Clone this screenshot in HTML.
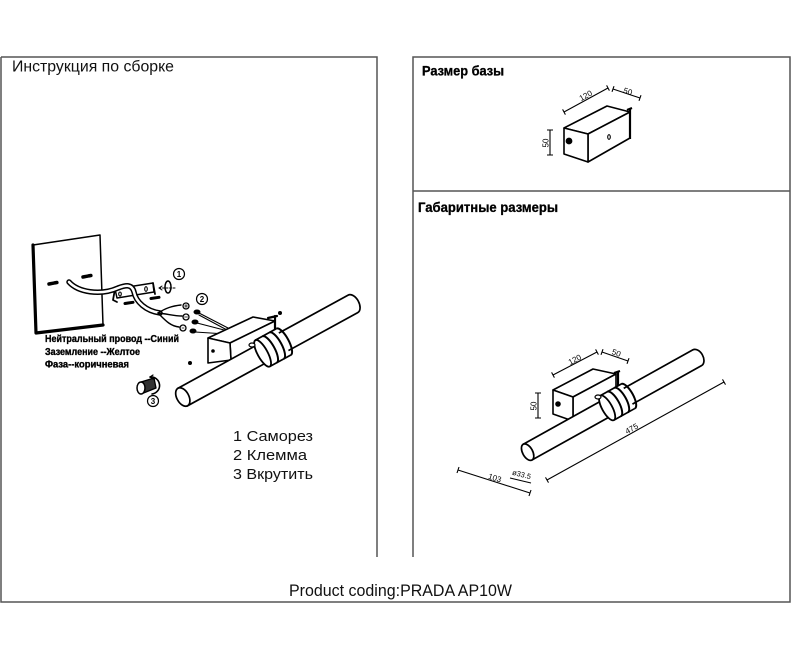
<!DOCTYPE html>
<html><head><meta charset="utf-8"><style>
html,body{margin:0;padding:0;background:#fff;}
svg{display:block;font-family:"Liberation Sans",sans-serif;}
</style></head><body>
<svg xmlns="http://www.w3.org/2000/svg" width="800" height="655" viewBox="0 0 800 655">
<rect width="800" height="655" fill="#fff"/>
<!-- frames -->
<g stroke="#555" stroke-width="1.5" fill="none">
<path d="M1,57H377V557 M1,57V602H790V57H413V557 M413,191H790"/>
</g>

<!-- headings -->
<text x="12" y="71.5" font-size="15.5" textLength="162" lengthAdjust="spacingAndGlyphs" fill="#111">Инструкция по сборке</text>
<text x="422" y="75.5" font-size="13.5" font-weight="bold" textLength="82" lengthAdjust="spacingAndGlyphs" fill="#000" stroke="#000" stroke-width="0.3">Размер базы</text>
<text x="418" y="212" font-size="14" font-weight="bold" textLength="140" lengthAdjust="spacingAndGlyphs" fill="#000" stroke="#000" stroke-width="0.3">Габаритные размеры</text>

<!-- LEFT ASSEMBLY DRAWING -->
<g stroke="#000" fill="none" stroke-linejoin="round" stroke-linecap="round">
 <!-- wall plate -->
 <polygon points="33,245 100,235 103,325 36,333" fill="#fff" stroke-width="1.5"/>
 <path d="M33,245 L36,333 L103,325" stroke-width="3.2"/>
 <path d="M49,284 l8,-1.5" stroke-width="3.5" stroke-dasharray="2 1"/>
 <path d="M83,277 l8,-1.5" stroke-width="3.5" stroke-dasharray="2 1"/>
 <!-- bracket -->
 <polygon points="115,289 153,283 154,292 117,298" fill="#fff" stroke-width="1.5"/>
 <path d="M115,289 L113,300 L117,302" stroke-width="1.8"/>
 <path d="M153,283 L155,294" stroke-width="1.8"/>
 <ellipse cx="120" cy="294" rx="1.3" ry="2" stroke-width="1.1"/>
 <ellipse cx="146" cy="289" rx="1.3" ry="2.3" stroke-width="1.1"/>
 <!-- cable -->
 <path d="M69,282 C78,292 100,296 118,288 C126,285 132,284 134,292 C136,302 146,311 160,313" stroke-width="5.5"/>
 <path d="M69,282 C78,292 100,296 118,288 C126,285 132,284 134,292 C136,302 146,311 160,313" stroke="#fff" stroke-width="2.5"/>
 <!-- screw arrows -->
 <path d="M125,303.5 l8,-1.2" stroke-width="3"/>
 <path d="M151,298.5 l8,-1.2" stroke-width="3"/>
 <!-- washer and arrow -->
 <ellipse cx="168" cy="287" rx="3" ry="6" stroke-width="1.5"/>
 <path d="M159,288 H176" stroke-width="1" stroke-dasharray="2 1.5"/>
 <path d="M159,288 l3,-2 M159,288 l3,2" stroke-width="1"/>
 <!-- wires -->
 <path d="M158,313 C166,308 172,306 181,305" stroke-width="1.4"/>
 <path d="M158,313 C168,314 174,316 182,316" stroke-width="1.4"/>
 <path d="M158,313 C165,320 170,326 179,327" stroke-width="1.4"/>
 <circle cx="186" cy="306" r="3" fill="#fff" stroke-width="1.3"/>
 <circle cx="186" cy="317" r="3" fill="#fff" stroke-width="1.3"/>
 <circle cx="183" cy="328" r="3" fill="#fff" stroke-width="1.3"/>
 <path d="M184.5,306 h3 M186,304.5 v3 M184.5,317 h3 M182,328 h2" stroke-width="0.8"/>
 <ellipse cx="197" cy="312" rx="3" ry="2" fill="#000"/>
 <ellipse cx="195" cy="322" rx="3" ry="2" fill="#000"/>
 <ellipse cx="193" cy="331" rx="3" ry="2" fill="#000"/>
 <path d="M199,313 L228,328 M197,323 L228,331 M195,332 L226,334 M199,315 L227,330" stroke-width="1.1"/>
 <!-- mounting box -->
 <polygon points="208,338 253,317 275,321 230,343" fill="#fff" stroke-width="1.6"/>
 <polygon points="230,343 275,321 275,338 231,360" fill="#fff" stroke-width="1.6"/>
 <polygon points="208,338 230,343 231,360 208,363" fill="#fff" stroke-width="1.6"/>
 <path d="M275,316 V350 M268,318 L277,316" stroke-width="2.2"/>
 <circle cx="213" cy="351" r="1.8" fill="#000" stroke="none"/>
 <!-- screws -->
 <circle cx="280" cy="313" r="2" fill="#000" stroke="none"/>
 <circle cx="190" cy="363" r="2" fill="#000" stroke="none"/>
 <!-- knob 3 -->
 <polygon points="141,382 154,378 156,388 141,394" fill="#333" stroke-width="1.3"/>
 <ellipse cx="141" cy="388" rx="4" ry="6" fill="#fff" stroke-width="1.5"/>
 <path d="M150,377 A8,8 0 1 1 152,394" stroke-width="1.6"/>
 <path d="M150,377 l3,-2 M150,377 l3,2" stroke-width="1.2"/>
</g>
<!-- left tube -->
<g transform="translate(270.5,349) rotate(-28.7)" stroke="#000" stroke-width="1.7" fill="#fff">
 <path d="M-100,-10 H94 A6,10 0 0 1 94,10 H-100 Z"/>
 <ellipse cx="-100" cy="0" rx="6" ry="10"/>
 <rect x="-9" y="-15" width="24" height="30" stroke="none"/>
 <path d="M-9,-15 H15 M-9,15 H15" fill="none"/>
 <path d="M15,-15 A5,15 0 0 1 15,15" fill="none" stroke-width="2"/>
 <path d="M7,-15 A5,15 0 0 1 7,15" fill="none" stroke-width="2"/>
 <path d="M-1,-15 A5,15 0 0 1 -1,15" fill="none" stroke-width="2"/>
 <ellipse cx="-9" cy="0" rx="5" ry="15" stroke-width="1.8"/>
</g>
<ellipse cx="252" cy="345" rx="3" ry="2" fill="#fff" stroke="#000" stroke-width="1.2"/>
<!-- circled numbers -->
<g font-size="8" font-weight="bold" text-anchor="middle">
 <circle cx="179" cy="274" r="5.5" fill="#fff" stroke="#000" stroke-width="1.2"/>
 <text x="179" y="277">1</text>
 <circle cx="202" cy="299" r="5.5" fill="#fff" stroke="#000" stroke-width="1.2"/>
 <text x="202" y="302">2</text>
 <circle cx="153" cy="401" r="5.5" fill="#fff" stroke="#000" stroke-width="1.2"/>
 <text x="153" y="404">3</text>
</g>
<!-- wire labels -->
<g font-size="10.5" font-weight="bold" fill="#000" stroke="#000" stroke-width="0.35">
 <text x="45" y="342" textLength="134" lengthAdjust="spacingAndGlyphs">Нейтральный провод --Синий</text>
 <text x="45" y="355" textLength="95" lengthAdjust="spacingAndGlyphs">Заземление --Желтое</text>
 <text x="45" y="367.5" textLength="84" lengthAdjust="spacingAndGlyphs">Фаза--коричневая</text>
</g>
<!-- legend -->
<g font-size="15" fill="#111">
 <text x="233" y="441" textLength="80" lengthAdjust="spacingAndGlyphs">1 Саморез</text>
 <text x="233" y="460" textLength="74" lengthAdjust="spacingAndGlyphs">2 Клемма</text>
 <text x="233" y="479" textLength="80" lengthAdjust="spacingAndGlyphs">3 Вкрутить</text>
</g>

<!-- TOP RIGHT BASE -->
<g stroke="#000" fill="#fff" stroke-width="1.6" stroke-linejoin="round">
 <polygon points="564,128 607,106 630,112 588,134"/>
 <polygon points="588,134 630,112 630,138 588,162"/>
 <polygon points="564,128 588,134 588,162 564,154"/>
 <path d="M630,109 V139 M627,110 L632,108" stroke-width="2.2" fill="none"/>
 <circle cx="569" cy="141" r="2.6" fill="#000"/>
 <ellipse cx="609" cy="137" rx="1.3" ry="2.3" fill="none" stroke-width="1.1"/>
</g>
<g stroke="#000" stroke-width="1.1" fill="none">
 <path d="M564,112 L608,88 M562.6,109.4 L565.4,114.6 M606.6,85.4 L609.4,90.6"/>
 <path d="M613,89 L640,98 M614,86.2 L612,91.8 M641,95.2 L639,100.8"/>
 <path d="M550,130 V155 M547,130 H553 M547,155 H553"/>
</g>
<g font-size="8" text-anchor="middle" fill="#000">
 <text transform="translate(587,98) rotate(-28.6)">120</text>
 <text transform="translate(627,94) rotate(18.4)">50</text>
 <text transform="translate(548.5,143) rotate(-90)">50</text>
</g>

<!-- BOTTOM RIGHT OVERALL -->
<g stroke="#000" fill="#fff" stroke-width="1.6" stroke-linejoin="round">
 <polygon points="553,390 593,369 616,374 573,397"/>
 <polygon points="573,397 616,374 616,400 573,421"/>
 <polygon points="553,390 573,397 573,421 553,414"/>
 <path d="M618,371 V398 M614,373 L620,371" stroke-width="2.2" fill="none"/>
 <circle cx="558" cy="404" r="2" fill="#000"/>
</g>
<g transform="translate(615,403.5) rotate(-29.1)" stroke="#000" stroke-width="1.7" fill="#fff">
 <path d="M-100,-9 H94 A6,9 0 0 1 94,9 H-100 Z"/>
 <ellipse cx="-100" cy="0" rx="5" ry="9"/>
 <rect x="-9" y="-14" width="24" height="28" stroke="none"/>
 <path d="M-9,-14 H15 M-9,14 H15" fill="none"/>
 <path d="M15,-14 A5,14 0 0 1 15,14" fill="none" stroke-width="2"/>
 <path d="M7,-14 A5,14 0 0 1 7,14" fill="none" stroke-width="2"/>
 <path d="M-1,-14 A5,14 0 0 1 -1,14" fill="none" stroke-width="2"/>
 <ellipse cx="-9" cy="0" rx="5" ry="14" stroke-width="1.8"/>
</g>
<ellipse cx="598" cy="397" rx="3" ry="2" fill="#fff" stroke="#000" stroke-width="1.2"/>
<g stroke="#000" stroke-width="1.1" fill="none">
 <path d="M553,375 L597,352 M551.6,372.4 L554.4,377.6 M595.6,349.4 L598.4,354.6"/>
 <path d="M602,352 L628,361 M603,349.2 L601,354.8 M629,358.2 L627,363.8"/>
 <path d="M538,393 V418 M535,393 H541 M535,418 H541"/>
 <path d="M547,480 L724,382 M545.5,477.4 L548.5,482.6 M722.5,379.4 L725.5,384.6"/>
 <path d="M458,470 L530,493 M459,467 L457,473 M531,490 L529,496"/>
 <path d="M510,478 L531,483"/>
</g>
<g font-size="8" text-anchor="middle" fill="#000">
 <text transform="translate(576,362) rotate(-27.6)">120</text>
 <text transform="translate(615.5,355.5) rotate(19)">50</text>
 <text transform="translate(536.5,406) rotate(-90)">50</text>
 <text transform="translate(633,431) rotate(-29)">475</text>
 <text transform="translate(494,480.5) rotate(17.7)">103</text>
 <text transform="translate(521,477) rotate(14)" font-size="7.5">ø33.5</text>
</g>

<!-- footer -->
<text x="289" y="596" font-size="16.5" textLength="223" lengthAdjust="spacingAndGlyphs" fill="#111">Product coding:PRADA AP10W</text>
</svg>
</body></html>
